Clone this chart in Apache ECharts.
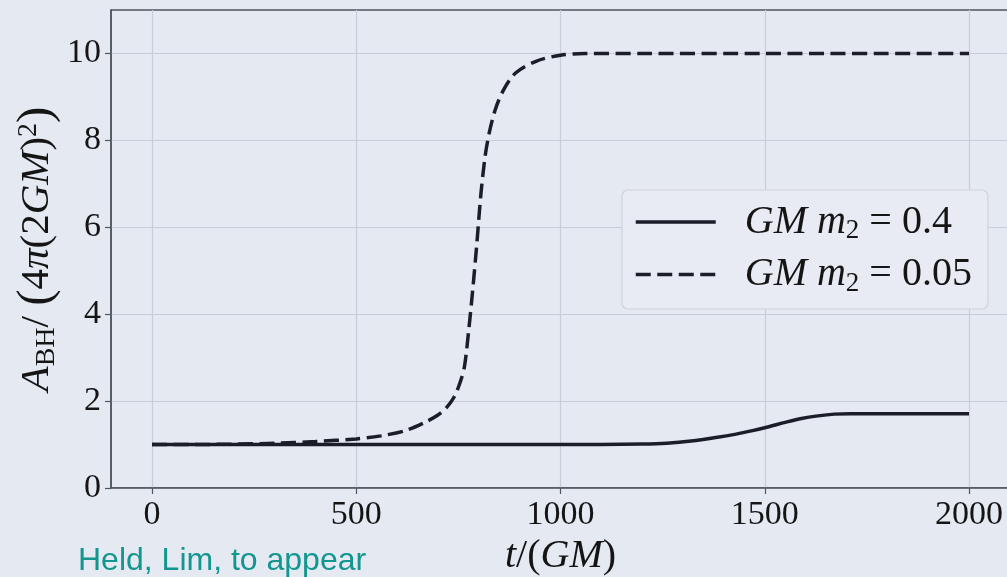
<!DOCTYPE html>
<html>
<head>
<meta charset="utf-8">
<script src="https://cdn.jsdelivr.net/npm/echarts@6/dist/echarts.min.js"></script>
<style>
  html, body { margin: 0; padding: 0; background: #E5E9F2; }
  #chart { width: 1007px; height: 577px; }
</style>
</head>
<body>
<div id="chart"></div>
<script>
// ---- data ----
const seriesNames = ['GM m2 = 0.4', 'GM m2 = 0.05'];
const legendValues = ['0.4', '0.05'];
const xTicks = [0, 500, 1000, 1500, 2000];
const yTicks = [0, 2, 4, 6, 8, 10];

const tSolid = [0, 1000, 1100, 1200, 1260, 1320, 1380, 1430, 1470, 1510, 1550, 1590, 1630, 1670, 1710, 2000];
const vSolid = [1.0, 1.0, 1.0, 1.01, 1.03, 1.08, 1.16, 1.24, 1.32, 1.41, 1.51, 1.6, 1.66, 1.70, 1.71, 1.71];

const tDashed = [0, 100, 200, 300, 400, 500, 560, 620, 670, 700, 720, 740, 755, 765, 775, 785, 795, 805, 815, 825, 840, 860, 890, 940, 1000, 1060, 1200, 1500, 2000];
const vDashed = [1.0, 1.0, 1.01, 1.03, 1.07, 1.13, 1.2, 1.32, 1.52, 1.68, 1.84, 2.1, 2.45, 2.8, 3.6, 4.55, 5.6, 6.75, 7.6, 8.15, 8.7, 9.15, 9.55, 9.82, 9.96, 10.0, 10.0, 10.0, 10.0];

const zip = (a, b) => a.map((x, i) => [x, b[i]]);

const bg = '#E5E9F2';
const axisCol = '#50545e';
const gridCol = '#C8CCD6';
const lineCol = '#1b1e28';
const txtCol = '#151515';
const serif = '"Liberation Serif", "DejaVu Serif", serif';

const chart = echarts.init(document.getElementById('chart'), null, { renderer: 'canvas' });

function mathRich(size) {
  const sub = Math.round(size * 0.68);
  return {
    i: { fontFamily: serif, fontStyle: 'italic', fontSize: size, color: txtCol },
    n: { fontFamily: serif, fontSize: size, color: txtCol },
    b: { fontFamily: serif, fontSize: Math.round(size * 1.2), color: txtCol },
    s: { fontFamily: serif, fontSize: sub, color: txtCol, padding: [Math.round(size * 0.45), 0, 0, 0] },
    p: { fontFamily: serif, fontSize: sub, color: txtCol, padding: [0, 0, Math.round(size * 0.45), 0] }
  };
}

chart.setOption({
  backgroundColor: bg,
  animation: false,
  grid: [
    { left: 111, top: 10, right: -3, bottom: 89, show: true, backgroundColor: bg, borderColor: axisCol, borderWidth: 1.5, outerBoundsMode: 'none', containLabel: false },
    { left: 152, top: 10, right: 38, bottom: 89, outerBoundsMode: 'none', containLabel: false }
  ],
  xAxis: [
    {
      gridIndex: 0, type: 'value', min: -100, max: 2100,
      axisLine: { show: true, onZero: false, lineStyle: { color: axisCol, width: 1.5 } },
      axisTick: { show: false }, axisLabel: { show: false }, splitLine: { show: false }
    },
    {
      gridIndex: 1, type: 'value', min: 0, max: 2000, interval: 500,
      axisLine: { show: false, onZero: false },
      axisTick: { show: true, length: 6, lineStyle: { color: axisCol, width: 1.2 } },
      axisLabel: { show: true, margin: 10, fontFamily: serif, fontSize: 34, color: txtCol,
                   formatter: v => (xTicks.indexOf(v) >= 0 ? String(v) : '') },
      splitLine: { show: true, lineStyle: { color: gridCol, width: 1.2 } },
      name: '{i|t}{n|/(}{i|GM}{n|)}',
      nameLocation: 'middle', nameGap: 47,
      nameTextStyle: { rich: mathRich(40) }
    }
  ],
  yAxis: [
    {
      gridIndex: 0, type: 'value', min: 0, max: 11, interval: 2,
      axisLine: { show: true, onZero: false, lineStyle: { color: axisCol, width: 1.5 } },
      axisTick: { show: true, length: 6, customValues: yTicks, lineStyle: { color: axisCol, width: 1.2 } },
      axisLabel: { show: true, margin: 10, fontFamily: serif, fontSize: 34, color: txtCol,
                   customValues: yTicks, formatter: v => String(v) },
      splitLine: { show: true, lineStyle: { color: gridCol, width: 1.2 } },
      name: '{i|A}{s|BH}{n|/ }{b|(}{n|4}{i|π}{n|(2}{i|GM}{n|)}{p|2}{b|)}',
      nameLocation: 'middle', nameRotate: 90, nameGap: 49, nameMoveOverlap: false,
      nameTextStyle: { rich: mathRich(41) }
    },
    {
      gridIndex: 1, type: 'value', min: 0, max: 11, show: false,
      axisLine: { show: false, onZero: false }, axisTick: { show: false }, axisLabel: { show: false }, splitLine: { show: false }
    }
  ],
  legend: {
    orient: 'vertical',
    left: 622, top: 190,
    padding: [12, 16, 12, 12],
    itemWidth: 80, itemHeight: 20, itemGap: 10,
    backgroundColor: '#E8EBF3',
    borderColor: '#CFD3DC', borderWidth: 1.2, borderRadius: 6,
    data: seriesNames,
    itemStyle: { opacity: 0, color: 'rgba(0,0,0,0)', borderWidth: 0 },
    lineStyle: { width: 3.5 },
    formatter: name => {
      const v = legendValues[seriesNames.indexOf(name)];
      return '{i|GM m}{s|2}{n| = ' + v + '}';
    },
    textStyle: { padding: [0, 0, 0, 24], rich: mathRich(40) }
  },
  graphic: [
    {
      type: 'text', left: 78, top: 545,
      style: { text: 'Held, Lim, to appear', fill: '#13968F',
               font: '32px "Liberation Sans", Arial, sans-serif' }
    }
  ],
  series: [
    {
      name: seriesNames[0], type: 'line', xAxisIndex: 1, yAxisIndex: 1,
      data: zip(tSolid, vSolid), showSymbol: false, symbol: 'none', smooth: 0.3,
      lineStyle: { color: lineCol, width: 3.5 }, itemStyle: { color: lineCol }, z: 5
    },
    {
      name: seriesNames[1], type: 'line', xAxisIndex: 1, yAxisIndex: 1,
      data: zip(tDashed, vDashed), showSymbol: false, symbol: 'none', smooth: 0.3,
      lineStyle: { color: lineCol, width: 3.5, type: [15, 6.5] }, itemStyle: { color: lineCol }, z: 5
    }
  ]
});
</script>
</body>
</html>
